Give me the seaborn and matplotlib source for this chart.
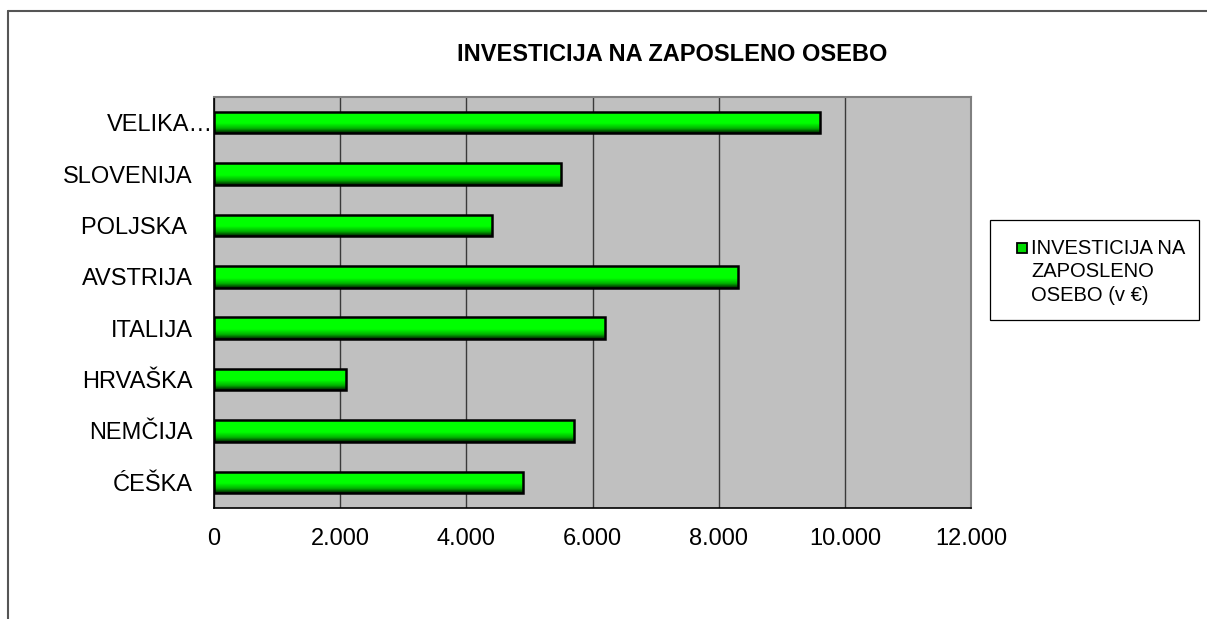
import numpy as np
import pandas as pd
import matplotlib
matplotlib.use("Agg")
import matplotlib.pyplot as plt
import matplotlib.transforms as mtransforms
from matplotlib.colors import LinearSegmentedColormap
from matplotlib.patches import Rectangle
from matplotlib.lines import Line2D
import seaborn as sns

countries = ["VELIKA…", "SLOVENIJA", "POLJSKA ", "AVSTRIJA", "ITALIJA", "HRVAŠKA", "NEMČIJA", "ĆEŠKA"]
investment = [9600, 5500, 4400, 8300, 6200, 2100, 5700, 4900]
x_ticks = [0, 2000, 4000, 6000, 8000, 10000, 12000]
x_tick_labels = ["0", "2.000", "4.000", "6.000", "8.000", "10.000", "12.000"]
series_name = "INVESTICIJA NA\nZAPOSLENO\nOSEBO (v €)"
title = "INVESTICIJA NA ZAPOSLENO OSEBO"

df = pd.DataFrame({"country": countries, "value": investment})

sns.set_style("white", {"text.color": "black", "xtick.color": "black", "ytick.color": "black"})
plt.rcParams["font.family"] = ["Liberation Sans", "DejaVu Sans"]

fig = plt.figure(figsize=(12.07, 6.19), dpi=100)
ax = fig.add_axes([0.1773, 0.1793, 0.6272, 0.664])

sns.barplot(data=df, x="value", y="country", orient="h", color="lime",
            width=0.42, edgecolor="black", linewidth=1.8, ax=ax)

# gradient fill on every bar (bright green on top, dark at the bottom)
grad_cmap = LinearSegmentedColormap.from_list(
    "bar", [(0.0, "#00ff00"), (0.55, "#00ff00"), (0.8, "#00b000"), (1.0, "#002000")])
grad = np.linspace(0, 1, 64).reshape(-1, 1)
for p in ax.patches:
    x0, y0 = p.get_x(), p.get_y()
    w, h = p.get_width(), p.get_height()
    # y axis is inverted: y0 is the top of the bar
    im = ax.imshow(grad, cmap=grad_cmap, aspect="auto",
                   extent=(x0, x0 + w, y0 + h, y0), origin="upper",
                   zorder=p.get_zorder() - 0.05, interpolation="bilinear")
    im.set_clip_path(p)
    p.set_facecolor("none")
    p.set_zorder(p.get_zorder() + 0.1)

ax.set_xlim(0, 12000)
ax.set_ylim(len(countries) - 0.5, -0.5)
ax.set_facecolor("#c0c0c0")
ax.set_axisbelow(True)
ax.xaxis.grid(True, color="#3a3a3a", linewidth=1.0)
ax.yaxis.grid(False)

ax.set_xticks(x_ticks)
ax.set_xticklabels(x_tick_labels, fontsize=17)
ax.set_yticks(range(len(countries)))
ax.set_yticklabels(countries, fontsize=17)
ax.set_yticks(np.arange(-0.5, len(countries)), minor=True)
ax.tick_params(axis="y", which="major", length=0, pad=15.5)
ax.tick_params(axis="y", which="minor", length=5, width=1, color="black", direction="out")
ax.tick_params(axis="x", which="major", length=6, width=1, color="black", direction="out", pad=8.5)
ax.set_xlabel("")
ax.set_ylabel("")

# the long label overflows up to the axis in the original
lab0 = ax.get_yticklabels()[0]
lab0.set_transform(lab0.get_transform() + mtransforms.ScaledTranslation(15 / 72, 0, fig.dpi_scale_trans))

for side in ["top", "right"]:
    ax.spines[side].set_color("#808080")
    ax.spines[side].set_linewidth(1.5)
for side in ["left", "bottom"]:
    ax.spines[side].set_color("black")
    ax.spines[side].set_linewidth(1.2)

fig.text(0.5567, 0.912, title, ha="center", va="center", fontsize=17, fontweight="bold")

# legend box, drawn by hand so the marker sits on the first text line
fig.add_artist(Rectangle((990 / 1207, 1 - 320 / 619), 209 / 1207, 100 / 619,
                         transform=fig.transFigure, facecolor="white",
                         edgecolor="black", linewidth=0.9))
fig.add_artist(Rectangle((1017 / 1207, 1 - 253 / 619), 10 / 1207, 10 / 619,
                         transform=fig.transFigure, facecolor="#00dd00",
                         edgecolor="black", linewidth=1.3))
fig.text(1031 / 1207, 1 - 239 / 619, series_name, ha="left", va="top",
         fontsize=14.5, linespacing=1.3)

# outer chart frame: only the top and left edges are visible
fig.add_artist(Line2D([0.0066, 1.0], [1 - 11 / 619, 1 - 11 / 619], transform=fig.transFigure,
                      color="#555555", linewidth=1.5))
fig.add_artist(Line2D([0.0066, 0.0066], [0.0, 1 - 11 / 619], transform=fig.transFigure,
                      color="#555555", linewidth=1.5))

fig.savefig("out.png", dpi=100)
